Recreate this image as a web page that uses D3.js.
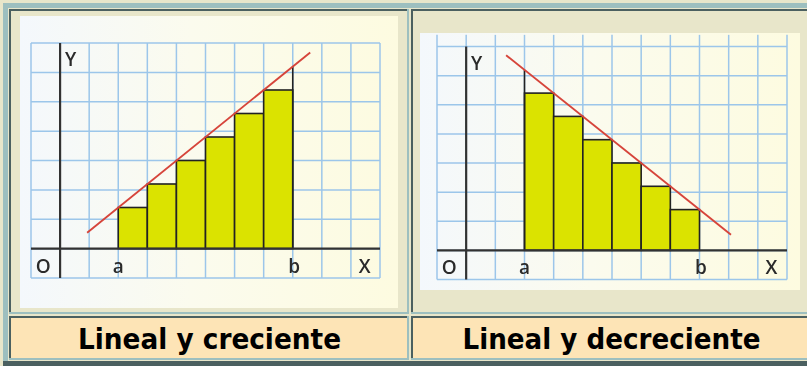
<!DOCTYPE html>
<html>
<head>
<meta charset="utf-8">
<script src="https://cdn.jsdelivr.net/npm/d3@7"></script>
<style>
  html, body { margin: 0; padding: 0; background: #e8e6ca; }
  svg { display: block; }
</style>
</head>
<body>
<svg id="chart" width="807" height="366"></svg>
<script>
// Bar positions (left edge of each unit-wide rectangle between a and b)
const barStarts = [2, 3, 4, 5, 6, 7];
// Heights of the rectangles for the increasing and decreasing functions
const increasingHeights = [1.4, 2.2, 3.0, 3.8, 4.6, 5.4];
const decreasingHeights = [5.4, 4.6, 3.8, 3.0, 2.2, 1.4];
// End points of the straight lines f(x)
const increasingLine = [[0.93, 0.54], [8.6, 6.68]];
const decreasingLine = [[1.37, 6.70], [9.08, 0.54]];
// Edge from the last/first rectangle up to the line
const increasingEdge = [[8, 0], [8, 6.2]];
const decreasingEdge = [[2, 0], [2, 6.2]];
// Axis labels
const tickLabels = [{t: "O", x: -0.58}, {t: "a", x: 2}, {t: "b", x: 8.05}, {t: "X", x: 10.47}];
const captions = ["Lineal y creciente", "Lineal y decreciente"];

const svg = d3.select("#chart");

const C = {
  beige: "#e8e6ca", light: "#9dbfbf", dark: "#4b6060", peach: "#fde4b6",
  grid: "#9cc6ea", axis: "#333333", bar: "#dbe302", barStroke: "#222222", line: "#d6443a"
};

// ---- table frame ----
svg.append("rect").attr("x", 0).attr("y", 0).attr("width", 807).attr("height", 366).attr("fill", C.beige);
// outer outset border
svg.append("rect").attr("x", 3).attr("y", 3).attr("width", 804).attr("height", 5).attr("fill", C.light);
svg.append("rect").attr("x", 3).attr("y", 3).attr("width", 5).attr("height", 358).attr("fill", C.light);
svg.append("rect").attr("x", 3).attr("y", 361).attr("width", 804).attr("height", 5).attr("fill", C.dark);

// inset cell borders
function cell(x, y, w, h, fill) {
  svg.append("rect").attr("x", x).attr("y", y).attr("width", w).attr("height", h).attr("fill", fill);
  svg.append("rect").attr("x", x).attr("y", y).attr("width", w).attr("height", 2).attr("fill", C.dark);
  svg.append("rect").attr("x", x).attr("y", y).attr("width", 2).attr("height", h).attr("fill", C.dark);
  svg.append("rect").attr("x", x).attr("y", y + h - 2).attr("width", w).attr("height", 2).attr("fill", C.light);
  svg.append("rect").attr("x", x + w - 2).attr("y", y).attr("width", 2).attr("height", h).attr("fill", C.light);
}
cell(9, 9, 400, 305, C.beige);
cell(411, 9, 398, 305, C.beige);
cell(9, 316, 400, 44, C.peach);
cell(411, 316, 398, 44, C.peach);

// paper background gradient
const defs = svg.append("defs");
const grad = defs.append("linearGradient").attr("id", "paper").attr("x1", "0").attr("x2", "1").attr("y1", "0").attr("y2", "0");
grad.append("stop").attr("offset", "0%").attr("stop-color", "#f4f8fc");
grad.append("stop").attr("offset", "45%").attr("stop-color", "#fbfbee");
grad.append("stop").attr("offset", "100%").attr("stop-color", "#fdfbe0");
defs.append("filter").attr("id", "soft").append("feGaussianBlur").attr("stdDeviation", 0.35);

// ---- one panel ----
function panel(opt) {
  svg.append("rect").attr("x", opt.img[0]).attr("y", opt.img[1])
    .attr("width", opt.img[2]).attr("height", opt.img[3]).attr("fill", "url(#paper)");

  const x = d3.scaleLinear().domain([-1, 11]).range(opt.xr);
  const y = d3.scaleLinear().domain([-1, 7]).range(opt.yr);
  const g = svg.append("g").attr("filter", "url(#soft)");

  // grid
  const top = opt.gridTop;
  g.append("g").selectAll("line").data(d3.range(-1, 12)).join("line")
    .attr("x1", d => x(d)).attr("x2", d => x(d))
    .attr("y1", y(top)).attr("y2", y(-1))
    .attr("stroke", C.grid).attr("stroke-width", 1.5);
  g.append("g").selectAll("line").data(d3.range(-1, Math.floor(top) + 1)).join("line")
    .attr("x1", x(-1)).attr("x2", x(11))
    .attr("y1", d => y(d)).attr("y2", d => y(d))
    .attr("stroke", C.grid).attr("stroke-width", 1.5);

  // bars
  g.append("g").selectAll("rect").data(barStarts.map((s, i) => ({s, h: opt.heights[i]}))).join("rect")
    .attr("x", d => x(d.s)).attr("width", d => x(d.s + 1) - x(d.s))
    .attr("y", d => y(d.h)).attr("height", d => y(0) - y(d.h))
    .attr("fill", C.bar).attr("stroke", C.barStroke).attr("stroke-width", 1.6);

  const line = d3.line().x(d => x(d[0])).y(d => y(d[1]));
  g.append("path").attr("d", line(opt.edge)).attr("stroke", C.barStroke).attr("stroke-width", 1.6).attr("fill", "none");

  // axes
  g.append("line").attr("x1", x(-1)).attr("x2", x(11)).attr("y1", y(0)).attr("y2", y(0))
    .attr("stroke", C.axis).attr("stroke-width", 2.2);
  g.append("line").attr("x1", x(0)).attr("x2", x(0)).attr("y1", y(7)).attr("y2", y(-1))
    .attr("stroke", C.axis).attr("stroke-width", 2.2);

  // function line
  g.append("path").attr("d", line(opt.line)).attr("stroke", C.line).attr("stroke-width", 1.9).attr("fill", "none");

  // labels
  g.append("g").selectAll("text").data(tickLabels).join("text")
    .attr("x", d => x(d.x)).attr("y", y(-0.58) + 7)
    .attr("text-anchor", "middle")
    .attr("font-family", "'Open Sans', 'DejaVu Sans', sans-serif").attr("font-size", 19)
    .attr("font-weight", 600)
    .attr("fill", "#2a2a2a").text(d => d.t);
  g.append("text").attr("x", x(0.36)).attr("y", y(6.45) + 7).attr("text-anchor", "middle")
    .attr("font-family", "'Open Sans', 'DejaVu Sans', sans-serif").attr("font-size", 19)
    .attr("font-weight", 600)
    .attr("fill", "#2a2a2a").text("Y");
}

panel({
  img: [20, 16, 378, 292], xr: [31, 380], yr: [278, 43], gridTop: 7,
  heights: increasingHeights, line: increasingLine, edge: increasingEdge
});
panel({
  img: [420, 33, 380, 257], xr: [437, 787], yr: [279.5, 46.5], gridTop: 7.4,
  heights: decreasingHeights, line: decreasingLine, edge: decreasingEdge
});

// captions
svg.selectAll("text.cap").data(captions).join("text").attr("class", "cap")
  .attr("x", (d, i) => i === 0 ? 209.5 : 611.5).attr("y", 349)
  .attr("text-anchor", "middle")
  .attr("font-family", "'DejaVu Sans', Verdana, sans-serif").attr("font-weight", "bold")
  .attr("font-size", 28)
  .attr("textLength", (d, i) => i === 0 ? 263 : 298).attr("lengthAdjust", "spacingAndGlyphs")
  .attr("fill", "#000").text(d => d);
</script>
</body>
</html>
